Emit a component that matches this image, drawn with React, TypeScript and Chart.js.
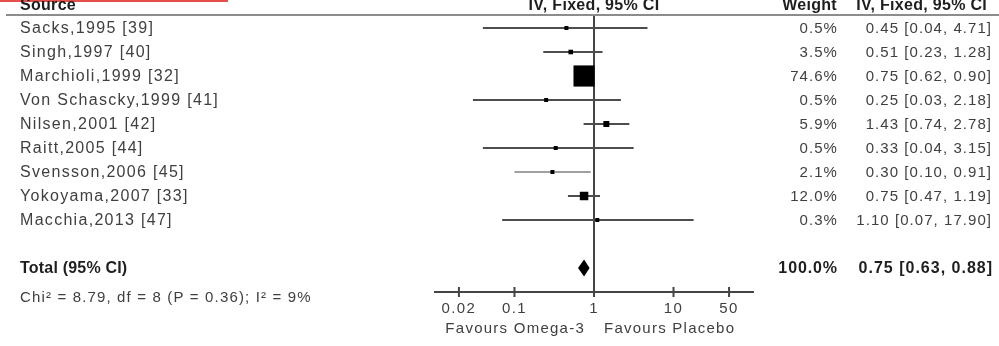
import React, { useEffect, useRef } from "react";
import { Chart, registerables } from "chart.js";

Chart.register(...registerables);

const studies = [
  "Sacks,1995 [39]",
  "Singh,1997 [40]",
  "Marchioli,1999 [32]",
  "Von Schascky,1999 [41]",
  "Nilsen,2001 [42]",
  "Raitt,2005 [44]",
  "Svensson,2006 [45]",
  "Yokoyama,2007 [33]",
  "Macchia,2013 [47]",
];
const weights = [0.5, 3.5, 74.6, 0.5, 5.9, 0.5, 2.1, 12.0, 0.3];
const estimates = [0.45, 0.51, 0.75, 0.25, 1.43, 0.33, 0.3, 0.75, 1.1];
const lowerCI = [0.04, 0.23, 0.62, 0.03, 0.74, 0.04, 0.1, 0.47, 0.07];
const upperCI = [4.71, 1.28, 0.9, 2.18, 2.78, 3.15, 0.91, 1.19, 17.9];

const totalLabel = "Total (95% CI)";
const totalWeight = 100.0;
const totalEstimate = 0.75;
const totalLower = 0.63;
const totalUpper = 0.88;
const heterogeneity = "Chi\u00B2 = 8.79, df = 8 (P = 0.36); I\u00B2 = 9%";

const xTicks = [0.02, 0.1, 1, 10, 50];
const leftFavour = "Favours Omega-3";
const rightFavour = "Favours Placebo";

const Y_MIN = -0.5417;
const Y_MAX = 11;
const TOTAL_ROW = 10;

const FONT = '"Liberation Sans", Arial, sans-serif';

function fmt(v: number) {
  return v.toFixed(2);
}

const forestPlugin = {
  id: "forestText",
  beforeDraw(chart: any) {
    chart.ctx.letterSpacing = "1.4px";
  },
  afterDraw(chart: any) {
    const ctx: CanvasRenderingContext2D = chart.ctx;
    const xs = chart.scales.x;
    const ys = chart.scales.y;
    const area = chart.chartArea;

    const text = (
      str: string,
      x: number,
      y: number,
      font: string,
      align: CanvasTextAlign,
      color: string,
      ls: string,
      baseline: CanvasTextBaseline = "middle"
    ) => {
      ctx.save();
      ctx.font = font;
      ctx.textAlign = align;
      ctx.textBaseline = baseline;
      ctx.fillStyle = color;
      (ctx as any).letterSpacing = ls;
      ctx.fillText(str, x, y);
      ctx.restore();
    };

    // red mark at top-left
    ctx.save();
    ctx.fillStyle = "#e5504d";
    ctx.fillRect(0, 0, 228, 2);
    // header rule
    ctx.strokeStyle = "#8c8c8c";
    ctx.lineWidth = 2;
    ctx.beginPath();
    ctx.moveTo(6, area.top);
    ctx.lineTo(999, area.top);
    ctx.stroke();
    ctx.restore();

    const bold = `bold 16px ${FONT}`;
    const dark = "#1e1e1e";
    const grey = "#404040";
    const refX = xs.getPixelForValue(1);
    text("Source", 20, 10, bold, "left", dark, "0.3px", "alphabetic");
    text("IV, Fixed, 95% CI", refX, 10, bold, "center", dark, "0.3px", "alphabetic");
    text("Weight", 837, 10, bold, "right", dark, "0.3px", "alphabetic");
    text("IV, Fixed, 95% CI", 987, 10, bold, "right", dark, "0.3px", "alphabetic");

    studies.forEach((s, i) => {
      const y = ys.getPixelForValue(i) + 1;
      text(s, 20, y, `16px ${FONT}`, "left", grey, "1.3px");
      text(weights[i].toFixed(1) + "%", 838, y, `15px ${FONT}`, "right", grey, "1.05px");
      text(
        `${fmt(estimates[i])} [${fmt(lowerCI[i])}, ${fmt(upperCI[i])}]`,
        992,
        y,
        `15px ${FONT}`,
        "right",
        grey,
        "1.05px"
      );
    });

    const ty = ys.getPixelForValue(TOTAL_ROW);
    text(totalLabel, 20, ty + 1, `bold 16px ${FONT}`, "left", dark, "0.2px");
    text(totalWeight.toFixed(1) + "%", 838, ty + 1, `bold 16px ${FONT}`, "right", dark, "0.9px");
    text(
      `${fmt(totalEstimate)} [${fmt(totalLower)}, ${fmt(totalUpper)}]`,
      993,
      ty + 1,
      `bold 16px ${FONT}`,
      "right",
      dark,
      "1px"
    );

    // diamond for pooled estimate
    const dl = xs.getPixelForValue(totalLower);
    const dc = xs.getPixelForValue(totalEstimate);
    const dr = xs.getPixelForValue(totalUpper);
    ctx.save();
    ctx.fillStyle = "#000";
    ctx.beginPath();
    ctx.moveTo(dl, ty);
    ctx.lineTo(dc, ty - 8.5);
    ctx.lineTo(dr, ty);
    ctx.lineTo(dc, ty + 8.5);
    ctx.closePath();
    ctx.fill();
    ctx.restore();

    text(heterogeneity, 20, 298, `15px ${FONT}`, "left", grey, "1.15px");

    // axis tick marks crossing the axis line
    ctx.save();
    ctx.strokeStyle = "#444";
    ctx.lineWidth = 2;
    xs.ticks.forEach((t: any) => {
      const px = xs.getPixelForValue(t.value);
      ctx.beginPath();
      ctx.moveTo(px, area.bottom - 5);
      ctx.lineTo(px, area.bottom + 5);
      ctx.stroke();
    });
    ctx.restore();

    text(leftFavour, refX - 9, 329, `15px ${FONT}`, "right", grey, "1.25px");
    text(rightFavour, refX + 10, 329, `15px ${FONT}`, "left", grey, "1.25px");

    (ctx as any).letterSpacing = "0px";
  },
};

export default function App() {
  const ref = useRef<HTMLCanvasElement>(null);

  useEffect(() => {
    const canvas = ref.current;
    if (!canvas) return;

    const ciDatasets = studies.map((s, i) => ({
      label: s,
      data: [
        { x: lowerCI[i], y: i },
        { x: upperCI[i], y: i },
      ],
      showLine: true,
      borderColor: i === 6 ? "#a0a0a0" : "#4d4d4d",
      borderWidth: 2,
      pointRadius: 0,
      fill: false,
    }));

    const chart = new Chart(canvas, {
      type: "scatter",
      data: {
        datasets: [
          {
            label: "Estimate",
            data: estimates.map((e, i) => ({ x: e, y: i })),
            pointStyle: "rect",
            pointRadius: weights.map(
              (w) => Math.max(4, 2.45 * Math.sqrt(w)) / (2 * Math.SQRT1_2)
            ),
            backgroundColor: "#000",
            borderWidth: 0,
            showLine: false,
          } as any,
          ...ciDatasets,
          {
            label: "No effect",
            data: [
              { x: 1, y: Y_MIN },
              { x: 1, y: Y_MAX },
            ],
            showLine: true,
            borderColor: "#444",
            borderWidth: 2,
            pointRadius: 0,
          },
        ],
      },
      options: {
        responsive: false,
        animation: false,
        devicePixelRatio: 1,
        events: [],
        layout: { padding: { left: 435, right: 246, top: 15, bottom: 0 } },
        plugins: {
          legend: { display: false },
          tooltip: { enabled: false },
        },
        scales: {
          x: {
            type: "logarithmic",
            position: "bottom",
            min: 0.01,
            max: 100,
            afterBuildTicks: (s: any) => {
              s.ticks = xTicks.map((v) => ({ value: v }));
            },
            afterFit: (s: any) => {
              s.height = 54;
            },
            grid: { display: false },
            border: { display: true, color: "#444", width: 2 },
            ticks: {
              autoSkip: false,
              maxRotation: 0,
              padding: 0,
              color: "#404040",
              font: { family: FONT, size: 15 },
              callback: (v: any) => String(v),
            },
          },
          y: {
            type: "linear",
            min: Y_MIN,
            max: Y_MAX,
            reverse: true,
            display: false,
          },
        },
      } as any,
      plugins: [forestPlugin],
    });

    return () => chart.destroy();
  }, []);

  return (
    <div
      style={{
        position: "fixed",
        left: 0,
        top: 0,
        width: 999,
        height: 346,
        background: "#fff",
      }}
    >
      <canvas ref={ref} width={999} height={346} style={{ display: "block" }} />
    </div>
  );
}
